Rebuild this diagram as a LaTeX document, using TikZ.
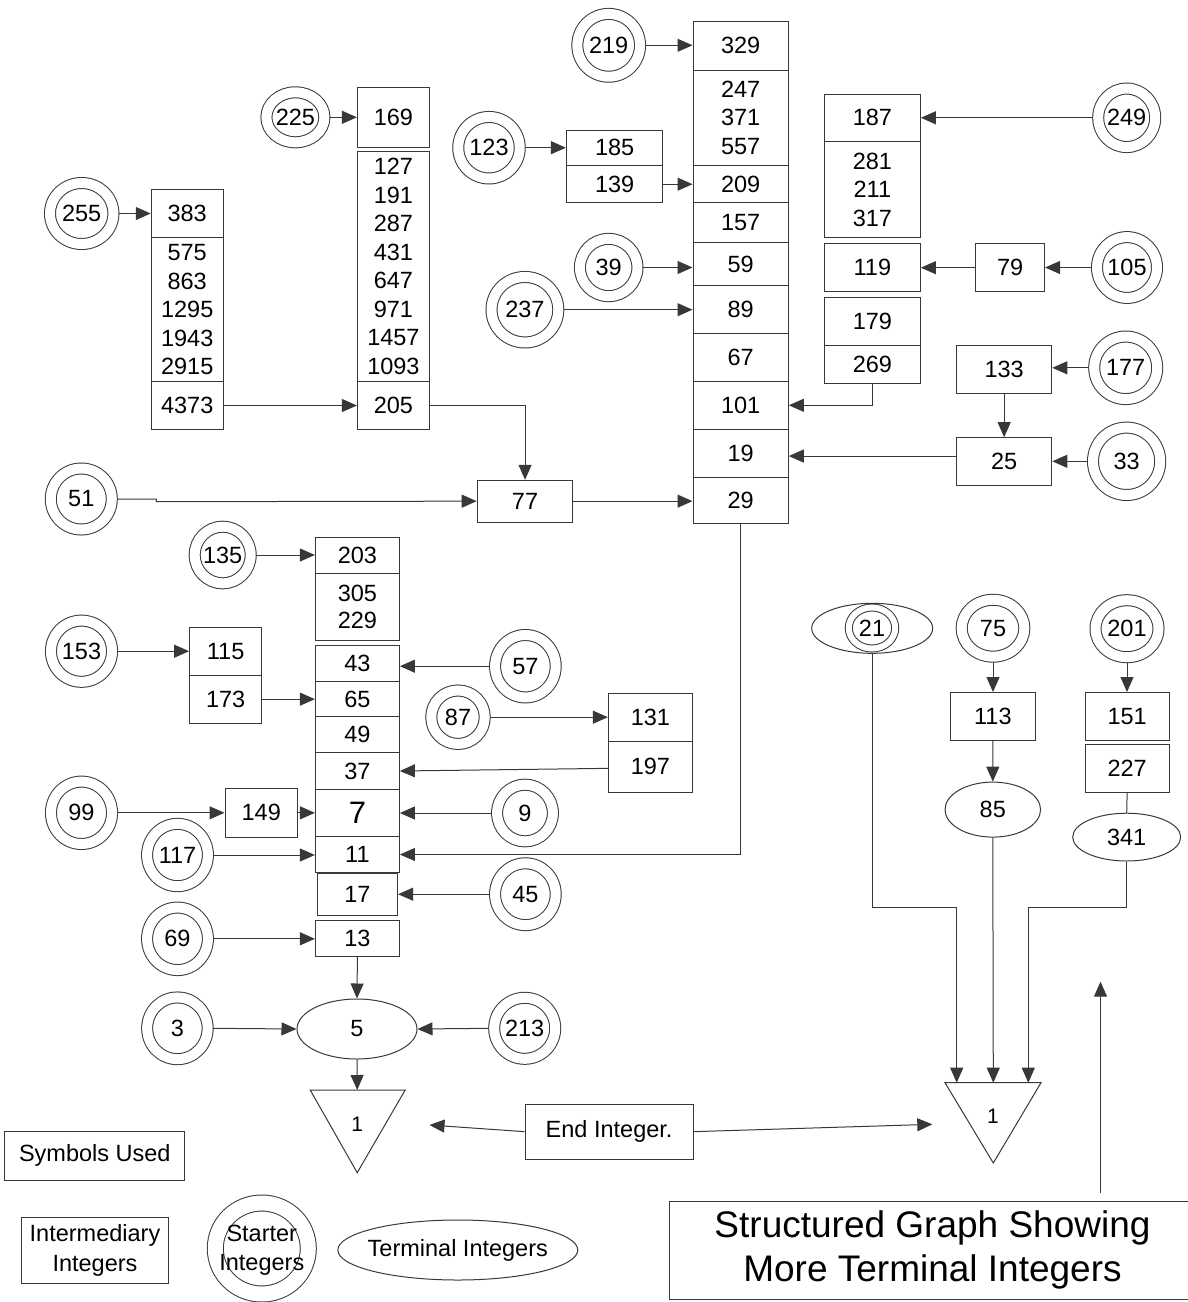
\documentclass[tikz,border=0pt]{standalone}
\usepackage{fontspec}
\setmainfont{Liberation Sans}
\usetikzlibrary{arrows.meta,shapes.geometric}
\definecolor{linegray}{gray}{0.22}
\begin{document}
\begin{tikzpicture}[x=1pt,y=-1pt,
  every node/.style={font=\fontsize{23.5}{28.5}\selectfont, text=black},
  sz/.style 2 args={minimum width=#1pt, minimum height=#2pt},
  ibox/.style={rectangle, draw=linegray, line width=1pt, inner sep=0pt, align=center},
  starter/.style={ellipse, draw=linegray, line width=1pt, double, double distance=10pt, inner sep=0pt, outer sep=5.5pt},
  term/.style={ellipse, draw=linegray, line width=1pt, inner sep=0pt},
  arr/.style={draw=linegray, line width=1pt, -{Triangle[length=15pt,width=13pt]}},
  plain/.style={draw=linegray, line width=1pt}]
\useasboundingbox (0,0) rectangle (1188,1302);
\clip (0,0) rectangle (1188,1302);

% ---------- starter integers ----------
\node[starter, sz={63.4}{61}] (s255) at (81.7,213.5) {255};
\node[starter, sz={58}{50}] (s225) at (295.4,117.3) {225};
\node[starter, sz={62.7}{62.8}] (s219) at (608.7,45.3) {219};
\node[starter, sz={61.5}{61.5}] (s123) at (489,147.7) {123};
\node[starter, sz={57}{58.5}] (s249) at (1126.7,117.8) {249};
\node[starter, sz={57.5}{57.3}] (s39) at (608.7,267.5) {39};
\node[starter, sz={60}{60.8}] (s105) at (1127,267.5) {105};
\node[starter, sz={66.8}{65.5}] (s237) at (524.9,309.7) {237};
\node[starter, sz={63}{62.5}] (s177) at (1125.7,367.8) {177};
\node[starter, sz={67.2}{67.4}] (s33) at (1126.6,461.3) {33};
\node[starter, sz={61}{61}] (s51) at (81.3,499) {51};
\node[starter, sz={56}{56.6}] (s135) at (222.7,555) {135};
\node[starter, sz={61.1}{61.2}] (s153) at (81.5,651.2) {153};
\node[starter, sz={60.6}{62.4}] (s57) at (525.4,666.2) {57};
\node[starter, sz={53.5}{53.5}] (s87) at (458,717.2) {87};
\node[starter, sz={61.1}{62.4}] (s99) at (81.5,812.8) {99};
\node[starter, sz={55.8}{56.7}] (s9) at (525,813) {9};
\node[starter, sz={60.8}{62.3}] (s117) at (177.5,855) {117};
\node[starter, sz={60.6}{61.8}] (s45) at (525.4,894.2) {45};
\node[starter, sz={60.8}{62.5}] (s69) at (177.5,938.8) {69};
\node[starter, sz={60.5}{61.7}] (s3) at (177.4,1028.3) {3};
\node[starter, sz={61}{61}] (s213) at (524.7,1028.3) {213};
\node[starter, sz={62.6}{56.9}] (s75) at (993,628.2) {75};
\node[starter, sz={63}{57}] (s201) at (1127,628.7) {201};
\node[term, sz={121}{50}] (e21) at (872.2,628.3) {};
\node[starter, double distance=6pt, outer sep=3.5pt, sz={46.4}{41}] (s21) at (872,628) {21};

% ---------- intermediary boxes ----------
\node[ibox, sz={71.9}{48.4}] (b383) at (187.2,213.5) {383};
\node[ibox, sz={71.9}{144}] (b575) at (187.2,309.7) {575\\863\\1295\\1943\\2915};
\node[ibox, sz={71.9}{47.6}] (b4373) at (187.2,405.5) {4373};
\node[ibox, sz={72}{60}] (b169) at (393.4,117.7) {169};
\node[ibox, sz={72}{230.7}] (b127) at (393.4,266.35) {127\\191\\287\\431\\647\\971\\1457\\1093};
\node[ibox, sz={72}{47.6}] (b205) at (393.4,405.5) {205};
\node[ibox, sz={96.5}{35.7}] (b185) at (614.65,147.85) {185};
\node[ibox, sz={96.5}{37}] (b139) at (614.65,184.2) {139};

\node[ibox, sz={95.3}{48.3}] (b329) at (740.65,45.85) {329};
\node[ibox, sz={95.3}{95.7}] (b247) at (740.65,117.85) {247\\371\\557};
\node[ibox, sz={95.3}{36.6}] (b209) at (740.65,184) {209};
\node[ibox, sz={95.3}{40.4}] (b157) at (740.65,222.5) {157};
\node[ibox, sz={95.3}{43}] (b59) at (740.65,264.2) {59};
\node[ibox, sz={95.3}{47.3}] (b89) at (740.65,309.35) {89};
\node[ibox, sz={95.3}{48.3}] (b67) at (740.65,357.15) {67};
\node[ibox, sz={95.3}{48}] (b101) at (740.65,405.3) {101};
\node[ibox, sz={95.3}{48}] (b19) at (740.65,453.3) {19};
\node[ibox, sz={95.3}{45.7}] (b29) at (740.65,500.15) {29};

\node[ibox, sz={96.1}{47.3}] (b187) at (872.35,117.65) {187};
\node[ibox, sz={96.1}{96.4}] (b281) at (872.35,189.5) {281\\211\\317};
\node[ibox, sz={96.1}{48}] (b119) at (872.35,267.7) {119};
\node[ibox, sz={68.9}{48}] (b79) at (1010.15,267.7) {79};
\node[ibox, sz={96.1}{47.6}] (b179) at (872.35,321.5) {179};
\node[ibox, sz={96.1}{38}] (b269) at (872.35,364.3) {269};
\node[ibox, sz={95.3}{47.6}] (b133) at (1004.15,369.5) {133};
\node[ibox, sz={95.3}{47.3}] (b25) at (1004.15,461.35) {25};
\node[ibox, sz={95.7}{41.7}] (b77) at (525.05,501.15) {77};

\node[ibox, sz={84}{36}] (b203) at (357.4,555.3) {203};
\node[ibox, sz={84}{66.7}, font=\fontsize{23.5}{27.3}\selectfont] (b305) at (357.4,606.65) {305\\229};
\node[ibox, sz={84}{35.6}] (b43) at (357.4,663.5) {43};
\node[ibox, sz={84}{35.4}] (b65) at (357.4,699) {65};
\node[ibox, sz={84}{36}] (b49) at (357.4,734.7) {49};
\node[ibox, sz={84}{36.6}] (b37) at (357.4,771) {37};
\node[ibox, sz={84}{47.4}, font=\fontsize{31}{36}\selectfont] (b7) at (357.4,813) {7};
\node[ibox, sz={84}{35.6}] (b11) at (357.4,854.5) {11};
\node[ibox, sz={80.3}{41.7}] (b17) at (357.45,894.15) {17};
\node[ibox, sz={84}{36}] (b13) at (357.4,938.7) {13};
\node[ibox, sz={72.1}{48}] (b115) at (225.65,651.3) {115};
\node[ibox, sz={72.1}{47.7}] (b173) at (225.65,699.15) {173};
\node[ibox, sz={84}{47.7}] (b131) at (650.4,717.15) {131};
\node[ibox, sz={84}{51.7}] (b197) at (650.4,766.85) {197};
\node[ibox, sz={72.5}{48.3}] (b149) at (261.25,812.85) {149};
\node[ibox, sz={84.3}{48.2}] (b113) at (992.85,716.6) {113};
\node[ibox, sz={84.3}{48.2}] (b151) at (1127.15,716.6) {151};
\node[ibox, sz={84.3}{47.7}] (b227) at (1127.15,768.25) {227};

% ---------- terminal integers ----------
\node[term, sz={120}{60}] (e5) at (357,1029) {5};
\node[term, sz={95.6}{55}] (e85) at (992.8,809.6) {85};
\node[term, sz={108}{47.8}] (e341) at (1126.7,837.1) {341};

% ---------- end triangles ----------
\draw[plain] (310.2,1090) -- (405.2,1090) -- (357.2,1172.7) -- cycle;
\node[font=\fontsize{21}{24}\selectfont] (t1L) at (357.2,1124) {1};
\coordinate (tLtop) at (357.2,1090);
\coordinate (tLarr) at (429.5,1125);
\draw[plain] (945,1082.7) -- (1041,1082.7) -- (993.3,1163) -- cycle;
\node[font=\fontsize{21}{24}\selectfont] (t1R) at (993,1116.7) {1};
\coordinate (tRa) at (956.7,1082.7);
\coordinate (tRb) at (993.3,1082.7);
\coordinate (tRc) at (1028.3,1082.7);
\coordinate (tRarr) at (932.3,1124.3);

% ---------- labels ----------
\node[ibox, sz={168.2}{55.3}] (bend) at (609.1,1131.65) {End Integer.};
\node[ibox, sz={179.9}{48.3}] (bsym) at (94.75,1155.85) {Symbols Used};
\node[ibox, sz={146.4}{66}, font=\fontsize{23.5}{29.5}\selectfont] (binter) at (95,1250.3) {Intermediary\\Integers};
\node[starter, double distance=15pt, sz={93}{91}] (lstart) at (261.8,1248.5) {};
\node[align=center, inner sep=0pt, font=\fontsize{23.5}{29}\selectfont] (lstarttxt) at (261.8,1250) {Starter\\Integers};
\node[term, sz={240}{60}] (lterm) at (457.8,1250) {};
\node[inner sep=0pt] (ltermtxt) at (lterm.center) {Terminal Integers};
\node[ibox, sz={527}{98.3}, font=\fontsize{37}{44.5}\selectfont] (bstruct) at (932.5,1250.15) {Structured Graph Showing\\More Terminal Integers};
\coordinate (upfrom) at (1100.5,1193.3);
\coordinate (upto) at (1100.5,981.7);

% ---------- connectors ----------
\draw[arr] (s255.east) -- (b383.west |- s255.east);
\draw[arr] (s225.east) -- (b169.west |- s225.east);
\draw[arr] (b4373.east) -- (b205.west);
\draw[arr] (b205.east) -| (b77.north);
\draw[arr] (s51.east) -- ++(39,0) -- ++(0,2.7) -- (b77.west);
\draw[arr] (s123.east) -- (b185.west |- s123.east);
\draw[arr] (b139.east) -- (b209.west |- b139.east);
\draw[arr] (s219.east) -- (b329.west |- s219.east);
\draw[arr] (s39.east) -- (b59.west |- s39.east);
\draw[arr] (s237.east) -- (b89.west |- s237.east);
\draw[arr] (s249.west) -- (b187.east |- s249.west);
\draw[arr] (b79.west) -- (b119.east);
\draw[arr] (s105.west) -- (b79.east |- s105.west);
\draw[arr] (b269.south) |- (b101.east);
\draw[arr] (s177.west) -- (b133.east |- s177.west);
\draw[arr] (b133.south) -- (b25.north);
\draw[arr] (s33.west) -- (b25.east |- s33.west);
\draw[arr] ([yshift=5.3pt]b25.west) -- ([yshift=5.3pt]b25.west -| b19.east);
\draw[arr] (b77.east) -- (b29.west |- b77.east);
\draw[arr] (b29.south) |- (b11.east);
\draw[arr] (s135.east) -- (b203.west |- s135.east);
\draw[arr] (s153.east) -- (b115.west |- s153.east);
\draw[arr] (b173.east) -- (b65.west |- b173.east);
\draw[arr] (s57.west) -- (b43.east |- s57.west);
\draw[arr] (s87.east) -- (b131.west |- s87.east);
\draw[arr] ([yshift=-1.5pt]b197.west) -- (b37.east);
\draw[arr] (s99.east) -- (b149.west |- s99.east);
\draw[arr] (b149.east) -- (b7.west |- b149.east);
\draw[arr] (s9.west) -- (b7.east |- s9.west);
\draw[arr] (s117.east) -- (b11.west |- s117.east);
\draw[arr] (s45.west) -- (b17.east |- s45.west);
\draw[arr] (s69.east) -- (b13.west |- s69.east);
\draw[arr] (b13.south) -- (e5.north);
\draw[arr] (s3.east) -- (e5.west);
\draw[arr] (s213.west) -- (e5.east);
\draw[arr] (e5.south) -- (tLtop);
\draw[arr] (bend.west) -- (tLarr);
\draw[arr] (bend.east) -- (tRarr);
\draw[arr] (s75.south) -- (b113.north -| s75.south);
\draw[arr] (b113.south) -- (e85.north);
\draw[arr] (e85.south) -- (tRb);
\draw[arr] (s201.south) -- (b151.north -| s201.south);
\draw[plain] (b227.south) -- (e341.north);
\draw[arr] (e341.south) -- ++(0,45.9) -| (tRc);
\draw[arr] (e21.south) -- ++(0,253.6) -| (tRa);
\draw[arr] (upfrom) -- (upto);
\end{tikzpicture}
\end{document}
